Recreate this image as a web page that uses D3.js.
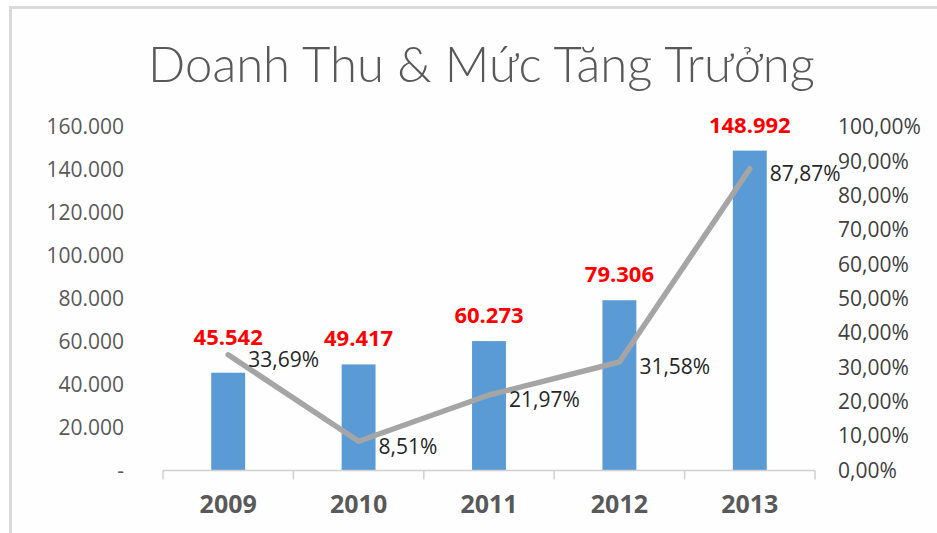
<!DOCTYPE html>
<html>
<head>
<meta charset="utf-8">
<script src="https://cdn.jsdelivr.net/npm/d3@7"></script>
<style>
  html, body { margin: 0; padding: 0; background: #ffffff; }
  svg { display: block; }
</style>
</head>
<body>
<svg id="chart" width="937" height="533"></svg>
<script>
// ---- data ----
const titleText = "Doanh Thu & Mức Tăng Trưởng";
const categories = ["2009", "2010", "2011", "2012", "2013"];
const revenue = [45542, 49417, 60273, 79306, 148992];
const growth = [0.3369, 0.0851, 0.2197, 0.3158, 0.8787];
const leftTicks = [0, 20000, 40000, 60000, 80000, 100000, 120000, 140000, 160000];
const rightTicks = [0, 0.1, 0.2, 0.3, 0.4, 0.5, 0.6, 0.7, 0.8, 0.9, 1.0];

// ---- setup ----
const svg = d3.select("#chart");
const W = 937, H = 533;
const locale = d3.formatLocale({decimal: ",", thousands: ".", grouping: [3], currency: ["", ""], percent: "%"});
const fmtNum = locale.format(",.0f");
const fmtPct = locale.format(".2%");
const FONT = "'Open Sans', 'Liberation Sans', sans-serif";

// frame
svg.append("rect").attr("x", 0).attr("y", 0).attr("width", W).attr("height", H).attr("fill", "#ffffff");
svg.append("rect").attr("x", 10.5).attr("y", 7.5).attr("width", W).attr("height", H).attr("fill", "#fefefe")
  .attr("stroke", "#dadada").attr("stroke-width", 3);

const x = d3.scaleBand().domain(categories).range([163, 815]).paddingInner(0.74).paddingOuter(0.37);
const yL = d3.scaleLinear().domain([0, 160000]).range([470.5, 127]);
const yR = d3.scaleLinear().domain([0, 1]).range([470.5, 127]);

// title
const title = svg.append("text")
  .attr("x", 481.5).attr("y", 82)
  .attr("text-anchor", "middle")
  .attr("fill", "#595959")
  .style("font-family", "Lato, 'Open Sans', sans-serif")
  .style("font-weight", 300)
  .style("font-size", "50px")
  .text(titleText);
const tl = title.node().getComputedTextLength();
title.style("font-size", (50 * 667 / tl) + "px");

// left axis
const axL = d3.axisLeft(yL).tickValues(leftTicks).tickSize(0).tickPadding(0)
  .tickFormat(d => d === 0 ? "-" : fmtNum(d));
const gL = svg.append("g").attr("transform", "translate(124,0)").call(axL);
gL.select(".domain").remove();
gL.selectAll("text").attr("fill", "#595959").style("font-family", FONT).style("font-size", "21px");

// right axis
const axR = d3.axisRight(yR).tickValues(rightTicks).tickSize(0).tickPadding(0)
  .tickFormat(d => fmtPct(d));
const gR = svg.append("g").attr("transform", "translate(838,0)").call(axR);
gR.select(".domain").remove();
gR.selectAll("text").attr("fill", "#404040").style("font-family", FONT).style("font-size", "21px");

// bars
svg.append("g").selectAll("rect").data(categories).join("rect")
  .attr("x", d => x(d))
  .attr("width", x.bandwidth())
  .attr("y", (d, i) => yL(revenue[i]))
  .attr("height", (d, i) => yL(0) - yL(revenue[i]))
  .attr("fill", "#5b9bd5");

// category axis
const axB = d3.axisBottom(x).tickSize(0).tickPadding(0);
const gB = svg.append("g").attr("transform", "translate(0,470.5)").call(axB);
gB.select(".domain").attr("stroke", "#d0d0d0").attr("stroke-width", 1.5).attr("d", "M163,0H815");
gB.selectAll("text").attr("y", 34).attr("dy", "0.35em")
  .attr("fill", "#595959").style("font-family", FONT).style("font-weight", "bold").style("font-size", "25px");
// boundary tick marks
const bounds = categories.map(d => x(d) - x.step() * x.paddingInner() / 2).concat([815]);
gB.append("g").selectAll("line").data(bounds).join("line")
  .attr("x1", d => d === bounds[0] ? 163 : d).attr("x2", d => d === bounds[0] ? 163 : d)
  .attr("y1", 0).attr("y2", 9)
  .attr("stroke", "#d0d0d0").attr("stroke-width", 1.5);

// growth line
const line = d3.line().x((d, i) => x(categories[i]) + x.bandwidth() / 2).y(d => yR(d));
svg.append("path").datum(growth)
  .attr("d", line)
  .attr("fill", "none").attr("stroke", "#a5a5a5").attr("stroke-width", 5.5)
  .attr("stroke-linejoin", "round").attr("stroke-linecap", "round");

// revenue labels
svg.append("g").selectAll("text").data(revenue).join("text")
  .attr("x", (d, i) => x(categories[i]) + x.bandwidth() / 2)
  .attr("y", (d, i) => yL(d) - 18 - (i === 0 ? 10 : 0))
  .attr("text-anchor", "middle")
  .attr("fill", "#ff0000")
  .style("font-family", FONT).style("font-weight", "bold").style("font-size", "22px")
  .text(d => fmtNum(d));

// growth labels
svg.append("g").selectAll("text").data(growth).join("text")
  .attr("x", (d, i) => x(categories[i]) + x.bandwidth() / 2 + 20)
  .attr("y", d => yR(d) + 5)
  .attr("dy", "0.35em")
  .attr("fill", "#262626")
  .style("font-family", FONT).style("font-size", "21px")
  .text(d => fmtPct(d));
</script>
</body>
</html>
